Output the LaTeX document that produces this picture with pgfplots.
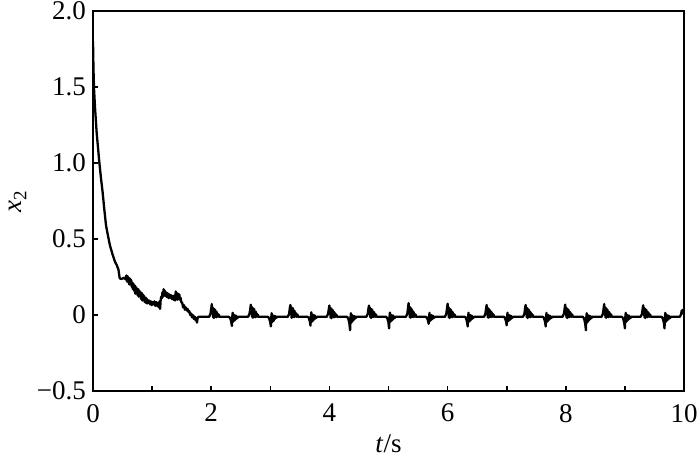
\documentclass[border=0pt]{standalone}
\usepackage{fontspec}
\setmainfont{Liberation Serif}
\usepackage{pgfplots}
\pgfplotsset{compat=1.18}
\begin{document}
\begin{tikzpicture}
\begin{axis}[
  at={(0,0)}, anchor=south west,
  width=295.5pt, height=190pt, scale only axis,
  xmin=0, xmax=10, ymin=-0.5, ymax=2,
  xtick={0,2,...,10}, minor xtick={1,3,5,7,9},
  ytick={-0.5,0,0.5,1,1.5,2},
  xticklabels={0,2,4,6,8,10},
  yticklabels={−0.5,0,0.5,1.0,1.5,2.0},
  tick align=inside, xtick pos=bottom, ytick pos=left,
  major tick length=2.5pt, minor tick length=2.5pt,
  every tick/.style={black, line width=0.8pt},
  axis line style={line width=0.9pt},
  tick label style={font=\fontsize{13.5}{16}\selectfont},
  xticklabel style={yshift=-3pt},
  label style={font=\fontsize{13.5}{16}\selectfont},
  /pgf/number format/assume math mode=true,
  xlabel={\textit{t}/s},
  ylabel={\textit{x}\textsubscript{2}},
  xlabel style={at={(axis description cs:0.5,-0.14)}, anchor=center},
  ylabel style={at={(axis description cs:-0.127,0.5)}, anchor=center},
]
\addplot[black, line width=1.15pt, line join=round] coordinates {
(0,1.80)(0.008,1.62)(0.017,1.49)(0.035,1.36)(0.062,1.20)(0.085,1.10)(0.107,1.005)
(0.135,0.90)(0.163,0.807)(0.19,0.70)(0.22,0.59)(0.254,0.52)(0.288,0.456)(0.33,0.40)
(0.372,0.35)(0.40,0.33)(0.43,0.30)(0.45,0.245)
(0.47,0.237)(0.50,0.24)(0.53,0.245)(0.55,0.235)(0.565,0.26)(0.575,0.22)(0.585,0.255)(0.595,0.215)
(0.605,0.245)(0.615,0.2)(0.625,0.24)(0.635,0.205)(0.645,0.23)(0.655,0.185)(0.665,0.215)(0.675,0.17)
(0.685,0.205)(0.695,0.16)(0.705,0.195)(0.715,0.14)(0.725,0.185)(0.735,0.145)(0.745,0.175)(0.755,0.13)
(0.765,0.17)(0.775,0.12)(0.785,0.16)(0.795,0.125)(0.805,0.15)(0.815,0.105)(0.825,0.145)(0.835,0.095)
(0.845,0.135)(0.855,0.1)(0.865,0.125)(0.875,0.085)(0.885,0.115)(0.895,0.08)(0.905,0.11)(0.915,0.075)
(0.925,0.1)(0.935,0.08)(0.95,0.095)(0.965,0.07)(0.98,0.09)(0.995,0.065)(1.01,0.085)(1.025,0.07)
(1.04,0.09)(1.055,0.06)(1.07,0.085)(1.085,0.06)(1.1,0.08)(1.115,0.05)(1.125,0.09)(1.135,0.04)
(1.145,0.1)(1.155,0.12)(1.165,0.11)(1.175,0.15)(1.185,0.12)(1.195,0.17)(1.205,0.13)(1.215,0.16)
(1.225,0.125)(1.235,0.15)(1.245,0.12)(1.255,0.145)(1.265,0.115)(1.275,0.14)(1.285,0.11)(1.295,0.135)
(1.305,0.115)(1.32,0.13)(1.335,0.105)(1.35,0.125)(1.365,0.1)(1.38,0.13)(1.39,0.095)(1.40,0.155)
(1.41,0.105)(1.42,0.145)(1.43,0.1)(1.44,0.14)(1.45,0.11)(1.46,0.135)(1.47,0.1)(1.48,0.115)
(1.495,0.085)(1.51,0.08)(1.525,0.05)(1.54,0.065)(1.555,0.035)(1.57,0.05)(1.585,0.03)(1.6,0.04)
(1.615,0.02)(1.63,0.025)(1.645,0.0)(1.66,0.01)(1.675,-0.015)(1.69,0.0)(1.705,-0.025)(1.72,-0.01)
(1.735,-0.035)(1.75,-0.02)(1.76,-0.05)(1.77,-0.02)(1.785,-0.012)
(1.965,-0.012)(1.988,0.008)(2.001,0.045)(2.01,0.072)(2.017,0.01)(2.024,0.05)(2.031,-0.015)(2.038,0.045)(2.045,-0.02)(2.052,0.04)(2.059,-0.005)(2.066,0.035)(2.073,-0.012)(2.08,0.025)(2.087,-0.015)(2.094,0.02)(2.101,-0.006)(2.108,0.01)(2.118,-0.012)(2.128,0.003)(2.14,-0.012)
(2.30,-0.012)(2.32,-0.02)(2.338,-0.042)(2.35,-0.072)(2.357,-0.01)(2.364,0.015)(2.371,-0.045)(2.378,-0.005)(2.385,-0.04)(2.392,0.0)(2.399,-0.035)(2.406,-0.008)(2.413,-0.03)(2.42,-0.004)(2.427,-0.025)(2.435,-0.01)(2.445,-0.02)(2.455,-0.012)
(2.625,-0.012)(2.648,0.008)(2.661,0.04)(2.67,0.068)(2.677,0.015)(2.684,0.045)(2.691,-0.012)(2.698,0.05)(2.705,-0.018)(2.712,0.035)(2.719,-0.008)(2.726,0.04)(2.733,-0.01)(2.74,0.02)(2.747,-0.015)(2.754,0.022)(2.761,-0.004)(2.768,0.012)(2.778,-0.012)(2.788,0.002)(2.80,-0.012)
(2.96,-0.012)(2.98,-0.022)(2.998,-0.045)(3.01,-0.075)(3.017,-0.012)(3.024,0.012)(3.031,-0.048)(3.038,-0.002)(3.045,-0.036)(3.052,-0.004)(3.059,-0.038)(3.066,-0.006)(3.073,-0.028)(3.08,-0.006)(3.087,-0.022)(3.095,-0.01)(3.105,-0.018)(3.115,-0.012)
(3.295,-0.012)(3.318,0.006)(3.331,0.048)(3.34,0.066)(3.347,0.008)(3.354,0.052)(3.361,-0.018)(3.368,0.04)(3.375,-0.015)(3.382,0.045)(3.389,-0.002)(3.396,0.03)(3.403,-0.014)(3.41,0.028)(3.417,-0.012)(3.424,0.018)(3.431,-0.008)(3.438,0.008)(3.448,-0.012)(3.458,0.004)(3.47,-0.012)
(3.63,-0.012)(3.65,-0.018)(3.668,-0.04)(3.68,-0.07)(3.687,-0.008)(3.694,0.018)(3.701,-0.042)(3.708,-0.006)(3.715,-0.042)(3.722,0.002)(3.729,-0.032)(3.736,-0.01)(3.743,-0.03)(3.75,-0.002)(3.757,-0.024)(3.765,-0.01)(3.775,-0.02)(3.785,-0.012)
(3.955,-0.012)(3.978,0.008)(3.991,0.042)(4.0,0.062)(4.007,0.012)(4.014,0.048)(4.021,-0.018)(4.028,0.044)(4.035,-0.022)(4.042,0.038)(4.049,-0.006)(4.056,0.032)(4.063,-0.01)(4.07,0.024)(4.077,-0.016)(4.084,0.018)(4.091,-0.006)(4.098,0.01)(4.108,-0.012)(4.118,0.002)(4.13,-0.012)
(4.30,-0.012)(4.32,-0.025)(4.338,-0.055)(4.35,-0.10)(4.357,-0.018)(4.364,0.012)(4.371,-0.052)(4.378,-0.008)(4.385,-0.044)(4.392,-0.002)(4.399,-0.038)(4.406,-0.01)(4.413,-0.032)(4.42,-0.006)(4.427,-0.026)(4.435,-0.01)(4.445,-0.02)(4.455,-0.012)
(4.625,-0.012)(4.648,0.006)(4.661,0.044)(4.67,0.062)(4.677,0.014)(4.684,0.05)(4.691,-0.014)(4.698,0.042)(4.705,-0.02)(4.712,0.04)(4.719,-0.004)(4.726,0.034)(4.733,-0.012)(4.74,0.024)(4.747,-0.014)(4.754,0.02)(4.761,-0.006)(4.768,0.01)(4.778,-0.012)(4.788,0.003)(4.80,-0.012)
(4.96,-0.012)(4.98,-0.022)(4.998,-0.048)(5.01,-0.088)(5.017,-0.012)(5.024,0.016)(5.031,-0.046)(5.038,-0.004)(5.045,-0.04)(5.052,0.0)(5.059,-0.036)(5.066,-0.008)(5.073,-0.03)(5.08,-0.004)(5.087,-0.025)(5.095,-0.01)(5.105,-0.02)(5.115,-0.012)
(5.295,-0.012)(5.318,0.008)(5.331,0.05)(5.34,0.078)(5.347,0.012)(5.354,0.055)(5.361,-0.015)(5.368,0.05)(5.375,-0.018)(5.382,0.044)(5.389,-0.004)(5.396,0.036)(5.403,-0.012)(5.41,0.026)(5.417,-0.014)(5.424,0.02)(5.431,-0.006)(5.438,0.01)(5.448,-0.012)(5.458,0.003)(5.47,-0.012)
(5.63,-0.012)(5.65,-0.018)(5.668,-0.036)(5.68,-0.058)(5.687,-0.008)(5.694,0.014)(5.701,-0.04)(5.708,-0.004)(5.715,-0.036)(5.722,0.0)(5.729,-0.03)(5.736,-0.008)(5.743,-0.026)(5.75,-0.004)(5.757,-0.022)(5.765,-0.01)(5.775,-0.018)(5.785,-0.012)
(5.955,-0.012)(5.978,0.008)(5.991,0.046)(6.0,0.074)(6.007,0.01)(6.014,0.052)(6.021,-0.016)(6.028,0.046)(6.035,-0.02)(6.042,0.04)(6.049,-0.005)(6.056,0.034)(6.063,-0.012)(6.07,0.024)(6.077,-0.015)(6.084,0.02)(6.091,-0.006)(6.098,0.01)(6.108,-0.012)(6.118,0.003)(6.13,-0.012)
(6.29,-0.012)(6.31,-0.02)(6.328,-0.044)(6.34,-0.075)(6.347,-0.01)(6.354,0.015)(6.361,-0.045)(6.368,-0.005)(6.375,-0.04)(6.382,0.0)(6.389,-0.035)(6.396,-0.008)(6.403,-0.03)(6.41,-0.004)(6.417,-0.025)(6.425,-0.01)(6.435,-0.02)(6.445,-0.012)
(6.615,-0.012)(6.638,0.006)(6.651,0.042)(6.66,0.066)(6.667,0.012)(6.674,0.048)(6.681,-0.016)(6.688,0.044)(6.695,-0.018)(6.702,0.038)(6.709,-0.005)(6.716,0.032)(6.723,-0.012)(6.73,0.024)(6.737,-0.014)(6.744,0.018)(6.751,-0.006)(6.758,0.01)(6.768,-0.012)(6.778,0.002)(6.79,-0.012)
(6.95,-0.012)(6.97,-0.02)(6.988,-0.04)(7.0,-0.068)(7.007,-0.01)(7.014,0.015)(7.021,-0.042)(7.028,-0.004)(7.035,-0.038)(7.042,0.0)(7.049,-0.034)(7.056,-0.008)(7.063,-0.028)(7.07,-0.004)(7.077,-0.024)(7.085,-0.01)(7.095,-0.018)(7.105,-0.012)
(7.275,-0.012)(7.298,0.006)(7.311,0.044)(7.32,0.066)(7.327,0.012)(7.334,0.05)(7.341,-0.016)(7.348,0.045)(7.355,-0.02)(7.362,0.038)(7.369,-0.004)(7.376,0.034)(7.383,-0.012)(7.39,0.024)(7.397,-0.015)(7.404,0.018)(7.411,-0.006)(7.418,0.01)(7.428,-0.012)(7.438,0.002)(7.45,-0.012)
(7.61,-0.012)(7.63,-0.02)(7.648,-0.044)(7.66,-0.075)(7.667,-0.012)(7.674,0.014)(7.681,-0.046)(7.688,-0.004)(7.695,-0.04)(7.702,0.0)(7.709,-0.034)(7.716,-0.008)(7.723,-0.03)(7.73,-0.004)(7.737,-0.024)(7.745,-0.01)(7.755,-0.02)(7.765,-0.012)
(7.945,-0.012)(7.968,0.008)(7.981,0.044)(7.99,0.068)(7.997,0.012)(8.004,0.05)(8.011,-0.016)(8.018,0.044)(8.025,-0.02)(8.032,0.04)(8.039,-0.004)(8.046,0.034)(8.053,-0.012)(8.06,0.024)(8.067,-0.014)(8.074,0.02)(8.081,-0.006)(8.088,0.01)(8.098,-0.012)(8.108,0.003)(8.12,-0.012)
(8.29,-0.012)(8.31,-0.025)(8.328,-0.056)(8.34,-0.10)(8.347,-0.018)(8.354,0.012)(8.361,-0.05)(8.368,-0.006)(8.375,-0.044)(8.382,-0.002)(8.389,-0.036)(8.396,-0.01)(8.403,-0.03)(8.41,-0.006)(8.417,-0.026)(8.425,-0.01)(8.435,-0.02)(8.445,-0.012)
(8.605,-0.012)(8.628,0.008)(8.641,0.046)(8.65,0.072)(8.657,0.014)(8.664,0.052)(8.671,-0.016)(8.678,0.046)(8.685,-0.018)(8.692,0.04)(8.699,-0.004)(8.706,0.034)(8.713,-0.012)(8.72,0.024)(8.727,-0.014)(8.734,0.02)(8.741,-0.006)(8.748,0.01)(8.758,-0.012)(8.768,0.003)(8.78,-0.012)
(8.95,-0.012)(8.97,-0.022)(8.988,-0.05)(9.0,-0.088)(9.007,-0.014)(9.014,0.014)(9.021,-0.046)(9.028,-0.004)(9.035,-0.04)(9.042,0.0)(9.049,-0.034)(9.056,-0.008)(9.063,-0.03)(9.07,-0.004)(9.077,-0.024)(9.085,-0.01)(9.095,-0.02)(9.105,-0.012)
(9.265,-0.012)(9.288,0.006)(9.301,0.042)(9.31,0.064)(9.317,0.012)(9.324,0.048)(9.331,-0.016)(9.338,0.042)(9.345,-0.02)(9.352,0.038)(9.359,-0.004)(9.366,0.032)(9.373,-0.012)(9.38,0.022)(9.387,-0.014)(9.394,0.018)(9.401,-0.006)(9.408,0.01)(9.418,-0.012)(9.428,0.002)(9.44,-0.012)
(9.62,-0.012)(9.64,-0.022)(9.658,-0.048)(9.67,-0.088)(9.677,-0.012)(9.684,0.014)(9.691,-0.046)(9.698,-0.004)(9.705,-0.04)(9.712,0.0)(9.719,-0.034)(9.726,-0.008)(9.733,-0.03)(9.74,-0.004)(9.747,-0.024)(9.755,-0.01)(9.765,-0.02)(9.775,-0.012)
(9.93,-0.012)(9.95,0.005)(9.962,0.03)(9.972,0.01)(9.985,0.035)(10.0,0.02)
};
\end{axis}
\pgfresetboundingbox
\useasboundingbox (-46.5pt,-34pt) rectangle (303.5pt,195.5pt);
\end{tikzpicture}
\end{document}
